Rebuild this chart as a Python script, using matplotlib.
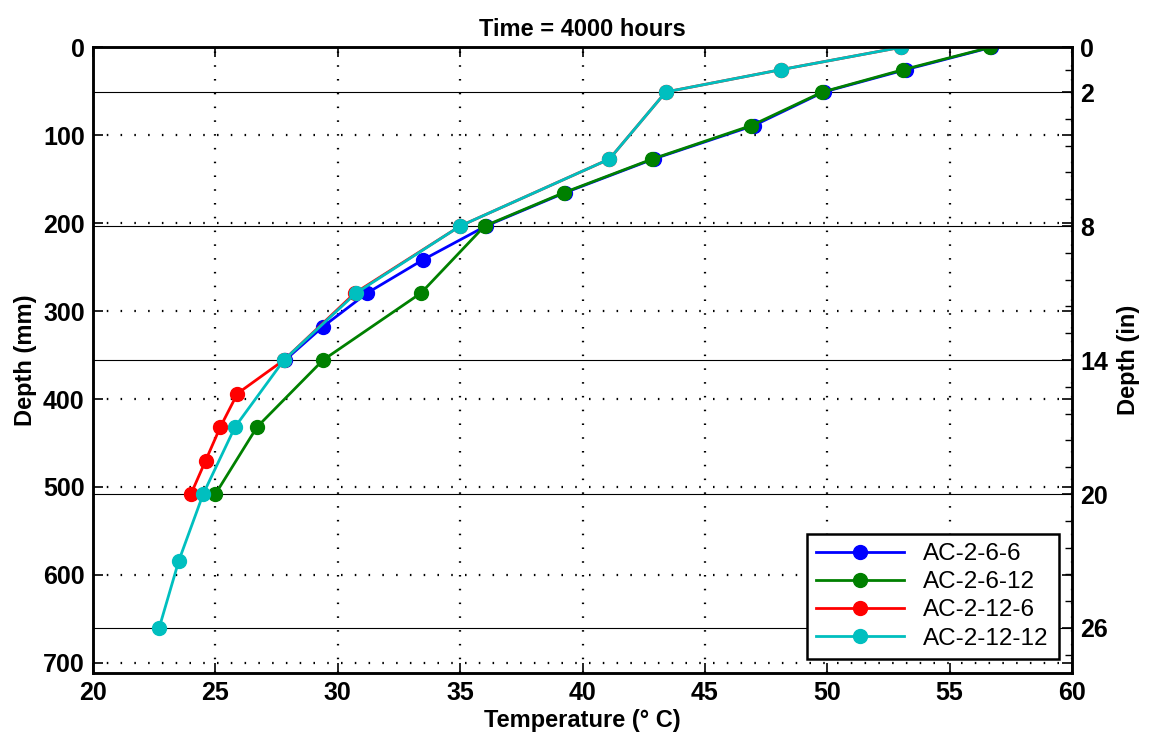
import numpy as np
import matplotlib.pyplot as plt
from matplotlib.ticker import FixedLocator

plt.rcParams['font.family'] = ['Liberation Sans', 'DejaVu Sans']

# depths in mm (measured at 1.5 in spacing, plus a few extra)
depth_6_6 = [0, 25.4, 50.8, 88.9, 127.0, 165.1, 203.2, 241.3, 279.4, 317.5, 355.6]
temp_6_6 = [56.7, 53.2, 49.85, 47.0, 42.9, 39.3, 36.05, 33.5, 31.2, 29.4, 27.85]

depth_6_12 = [0, 25.4, 50.8, 88.9, 127.0, 165.1, 203.2, 279.4, 355.6, 431.8, 508.0]
temp_6_12 = [56.65, 53.1, 49.8, 46.9, 42.85, 39.25, 36.0, 33.4, 29.4, 26.7, 25.0]

depth_12_6 = [0, 25.4, 50.8, 127.0, 203.2, 279.4, 355.6, 393.7, 431.8, 469.9, 508.0]
temp_12_6 = [53.0, 48.1, 43.4, 41.1, 35.0, 30.7, 27.8, 25.9, 25.2, 24.6, 24.0]

depth_12_12 = [0, 25.4, 50.8, 127.0, 203.2, 279.4, 355.6, 431.8, 508.0, 584.2, 660.4]
temp_12_12 = [53.0, 48.1, 43.4, 41.1, 35.0, 30.75, 27.8, 25.8, 24.5, 23.5, 22.7]

labels = ['AC-2-6-6', 'AC-2-6-12', 'AC-2-12-6', 'AC-2-12-12']
colors = ['#0000ff', '#008000', '#ff0000', '#00bfbf']

inch_ticks = [0, 2, 8, 14, 20, 26]
inch_minor = [1, 3.2, 4.4, 5.6, 6.8, 9.2, 10.4, 11.6, 12.8, 15.2, 16.4, 17.6, 18.8,
              21.2, 22.4, 23.6, 24.8, 27.2]

fig = plt.figure(figsize=(11.49, 7.40), dpi=100)
ax = fig.add_axes([0.081, 0.091, 0.852, 0.845])
ax2 = ax.twinx()

series = [(temp_6_6, depth_6_6), (temp_6_12, depth_6_12),
          (temp_12_6, depth_12_6), (temp_12_12, depth_12_12)]
for (t, d), c, lab in zip(series, colors, labels):
    ax.plot(t, d, '-o', color=c, lw=2.0, ms=10, label=lab)

ax.set_xlim(20, 60)
ax.set_ylim(711.2, 0)
ax.set_xticks(np.arange(20, 61, 5))
ax.set_yticks(np.arange(0, 701, 100))
ax.grid(True, color='k', linestyle=(0, (0.7, 5.5)), linewidth=1.6)
ax.tick_params(direction='in', length=7, width=1.2, top=True, right=True,
               labelsize=18, pad=6)
for lbl in ax.get_xticklabels() + ax.get_yticklabels():
    lbl.set_fontweight('bold')

ax2.set_ylim(28, 0)
ax2.yaxis.set_major_locator(FixedLocator(inch_ticks))
ax2.yaxis.set_minor_locator(FixedLocator(inch_minor))
ax2.grid(True, which='major', axis='y', color='k', linestyle='-', linewidth=0.8)
ax2.tick_params(which='major', direction='in', length=7, width=1.2, labelsize=18, pad=6)
ax2.tick_params(which='minor', direction='in', length=5, width=1.0)
for lbl in ax2.get_yticklabels():
    lbl.set_fontweight('bold')
ax2.set_ylabel('Depth (in)', fontsize=17, fontweight='bold', labelpad=6)

# keep data above the inch grid lines
ax2.set_zorder(ax.get_zorder() - 1)
ax.patch.set_visible(False)

for a in (ax, ax2):
    for s in a.spines.values():
        s.set_linewidth(1.8)

ax.set_xlabel('Temperature (° C)', fontsize=17, fontweight='bold', labelpad=3)
ax.set_ylabel('Depth (mm)', fontsize=17, fontweight='bold', labelpad=4)
ax.set_title('Time = 4000 hours', fontsize=17, fontweight='bold', pad=8)

leg = ax.legend(loc='lower right', fontsize=17.5, handlelength=3.6, fancybox=False,
                framealpha=1, edgecolor='k', borderaxespad=0.55, labelspacing=0.25,
                borderpad=0.4)
leg.get_frame().set_linewidth(1.8)

plt.savefig('out.png', dpi=100)
